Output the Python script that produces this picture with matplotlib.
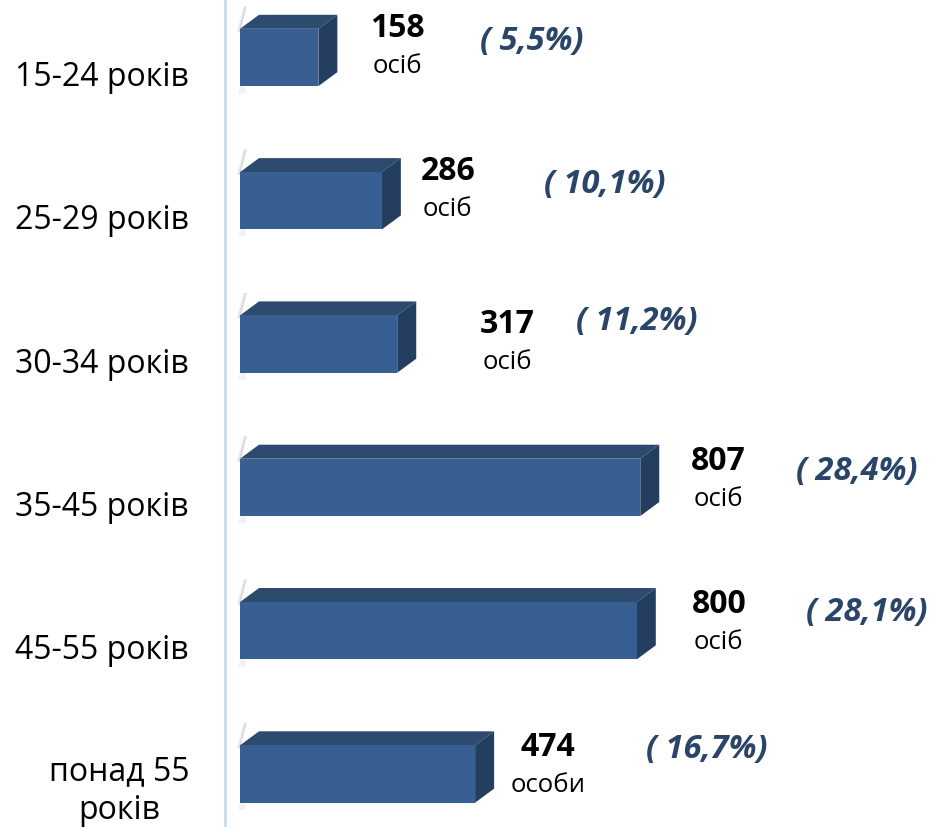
import matplotlib
matplotlib.use("Agg")
import matplotlib.pyplot as plt
import matplotlib.transforms as mtransforms
from matplotlib.patches import Polygon, Rectangle

plt.rcParams['font.family'] = ['Open Sans', 'DejaVu Sans']

categories = ["15-24 років", "25-29 років", "30-34 років", "35-45 років", "45-55 років", "понад 55\nроків"]
values = [158, 286, 317, 807, 800, 474]
units = ["осіб", "осіб", "осіб", "осіб", "осіб", "особи"]
percents = ["( 5,5%)", "( 10,1%)", "( 11,2%)", "( 28,4%)", "( 28,1%)", "( 16,7%)"]

# label placement (pixels from the bar end / bar centre)
num_dx = [79, 66, 110, 78, 82, 73]
num_dy = [30, 30, 21, 27, 27, 27]
pct_dx = [213, 223, 240, 216, 230, 232]
pct_dy = [17, 17, 24, 17, 19, 25]
cat_dy = [15, 15, 15, 15, 15, 9]

FRONT = "#385f91"
TOP = "#2d4a6f"
SIDE = "#243e5f"
PCT = "#2b4569"

W, H, DPI = 932, 828, 100
fig = plt.figure(figsize=(W / DPI, H / DPI), dpi=DPI)
fig.patch.set_facecolor("white")

px_per_unit = 0.496
x0 = -30
x1 = 1100
left_px = 240 + x0 * px_per_unit
ax = fig.add_axes([left_px / W, 0, (x1 - x0) * px_per_unit / W, 1])
ax.set_xlim(x0, x1)
ylim_top = -0.408
ylim_bot = 5.37
ax.set_ylim(ylim_bot, ylim_top)
py_per_unit = H / (ylim_bot - ylim_top)

h = 0.40
dx = 19 / px_per_unit
dy = 14 / py_per_unit

for i, v in enumerate(values):
    y = i
    top = y - h / 2
    bot = y + h / 2
    # soft shadow at the back-left
    for k, a in enumerate([0.06, 0.09, 0.12]):
        off = (3 - k) * 1.2 / px_per_unit
        ax.add_patch(Polygon([(0 - off, top + 0.02), (dx * 0.35 - off, top - dy - 0.06),
                              (dx * 0.35, top - dy - 0.06), (0, top + 0.02)],
                             closed=True, facecolor="#555555", alpha=a, edgecolor="none", zorder=1))
    ax.add_patch(Polygon([(0, bot), (0 - 2 / px_per_unit, bot + 0.05), (dx * 0.3, bot + 0.05), (dx * 0.3, bot)],
                         closed=True, facecolor="#888888", alpha=0.10, edgecolor="none", zorder=1))
    ax.add_patch(Rectangle((0, top), v, h, facecolor=FRONT, edgecolor="none", zorder=3))
    ax.add_patch(Polygon([(0, top), (v, top), (v + dx, top - dy), (dx, top - dy)],
                         closed=True, facecolor=TOP, edgecolor="none", zorder=2))
    ax.add_patch(Polygon([(v, top), (v + dx, top - dy), (v + dx, bot - dy), (v, bot)],
                         closed=True, facecolor=SIDE, edgecolor="none", zorder=2))

    ax.annotate(str(v), xy=(v, y), xytext=(num_dx[i], num_dy[i]), textcoords="offset pixels",
                ha="center", va="center", fontsize=23, fontweight="bold", color="black",
                annotation_clip=False)
    ax.annotate(units[i], xy=(v, y), xytext=(num_dx[i], num_dy[i] - 38), textcoords="offset pixels",
                ha="center", va="center", fontsize=18.5, color="black", annotation_clip=False)
    ax.annotate(percents[i], xy=(v, y), xytext=(pct_dx[i], pct_dy[i]), textcoords="offset pixels",
                ha="center", va="center", fontsize=23.5, fontweight="bold", fontstyle="italic",
                color=PCT, annotation_clip=False)

ax.set_yticks(range(len(categories)))
ax.set_yticklabels(categories, fontsize=23, linespacing=1.25, ha="right", multialignment="center")
ax.tick_params(axis="y", length=0, pad=0)
for lab, cdy in zip(ax.get_yticklabels(), cat_dy):
    lab.set_transform(lab.get_transform() +
                      mtransforms.ScaledTranslation((190 - 226) / DPI, -cdy / DPI, fig.dpi_scale_trans))
ax.set_xticks([])
for s in ["top", "right", "bottom"]:
    ax.spines[s].set_visible(False)
ax.spines["left"].set_color("#c9d8ee")
ax.spines["left"].set_linewidth(2)
ax.patch.set_alpha(0)

fig.savefig("out.png", dpi=DPI)
